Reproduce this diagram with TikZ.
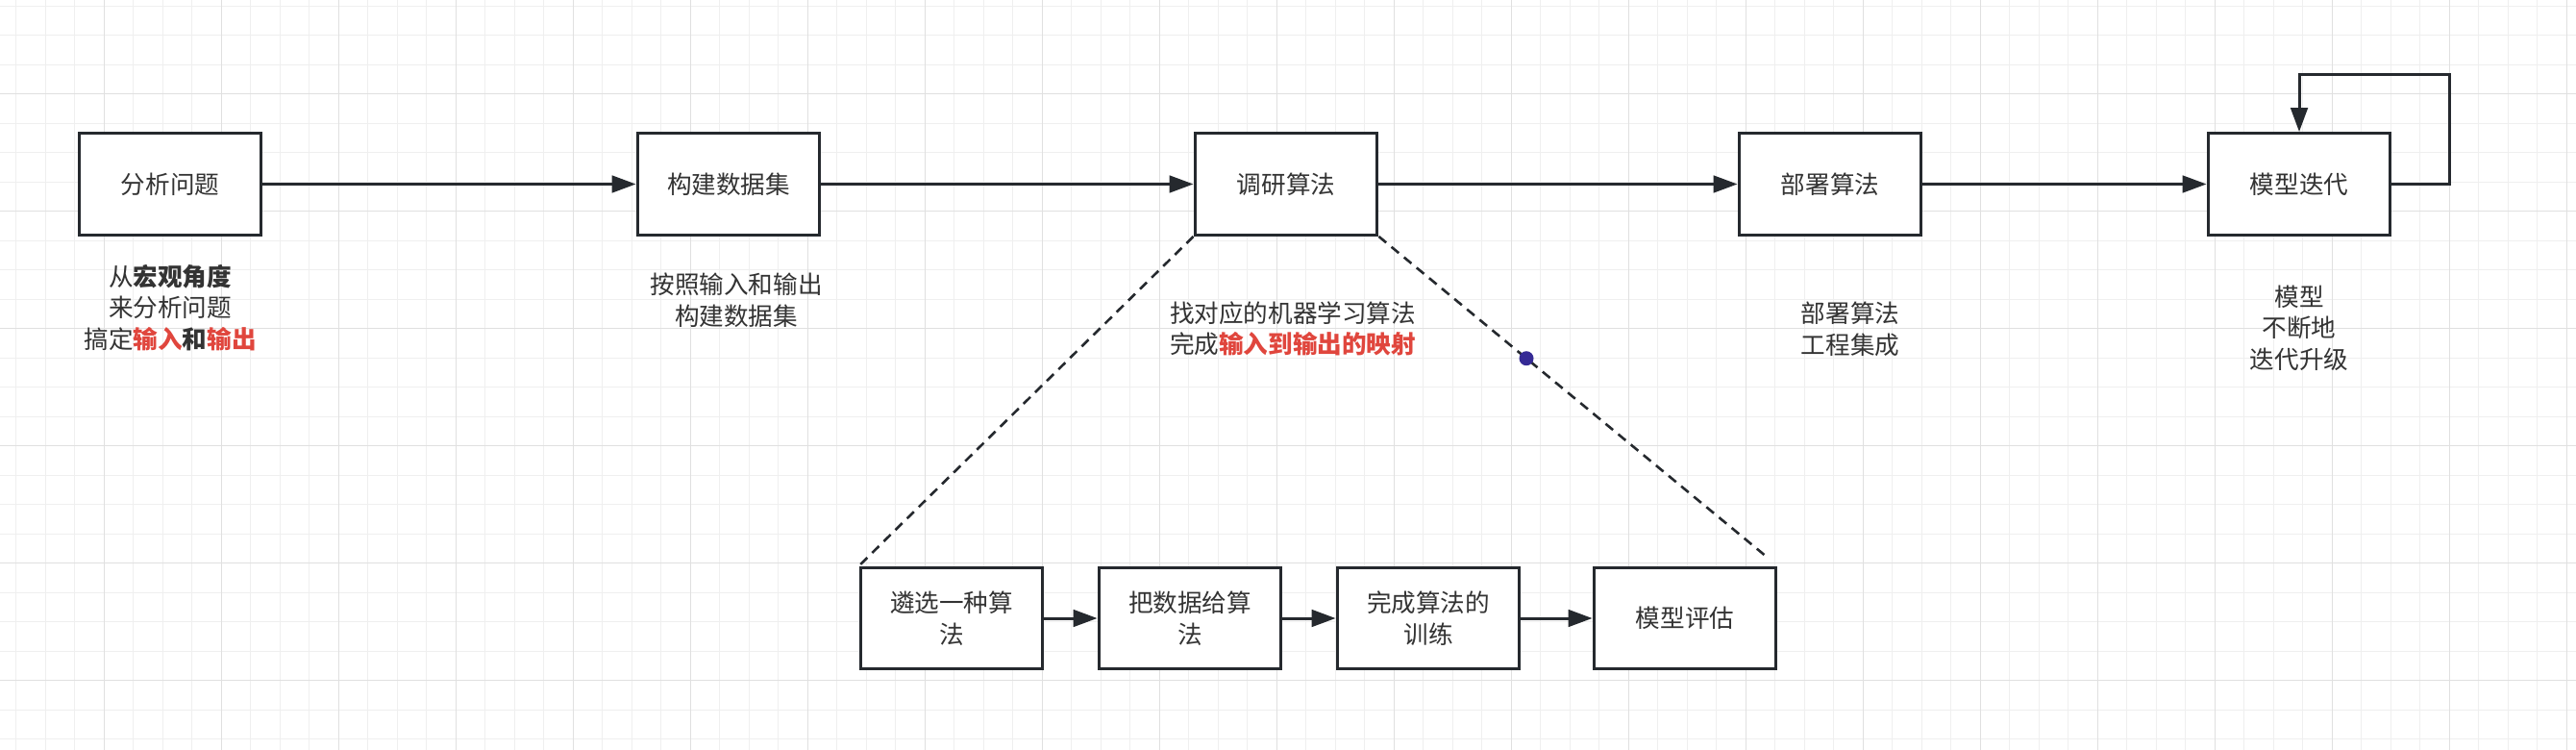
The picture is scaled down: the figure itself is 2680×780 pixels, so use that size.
\documentclass[tikz,border=0pt]{standalone}
\usepackage{fontspec}
\setmainfont{Noto Sans CJK SC}
\usetikzlibrary{arrows.meta}
\definecolor{flowInk}{HTML}{333333}
\definecolor{flowLine}{HTML}{25292E}
\definecolor{flowRed}{HTML}{E0463D}
\definecolor{flowDot}{HTML}{352A95}
\definecolor{flowGridMinor}{HTML}{EFEFEF}
\definecolor{flowGridMajor}{HTML}{E0E0E0}
\newcommand{\flowFont}{\fontsize{12.8pt}{16.3pt}\selectfont}
\newcommand{\flowHi}[1]{\textcolor{flowRed}{\textbf{#1}}}
\tikzset{
  flowBox/.style={
    draw=flowLine,
    line width=1.65pt,
    fill=white,
    minimum width=94.8pt,
    minimum height=52.8pt,
    inner sep=2pt,
    align=center,
    text=flowInk,
    font=\flowFont
  },
  flowArrow/.style={
    -{Triangle[length=12.5pt,width=8.8pt]},
    line width=1.5pt,
    draw=flowLine
  },
  flowDash/.style={
    line width=1.3pt,
    draw=flowLine,
    dash pattern=on 5pt off 3.5pt
  },
  flowNote/.style={
    align=center,
    text=flowInk,
    font=\flowFont
  }
}

\begin{document}
\begin{tikzpicture}[x=0.5pt,y=-0.5pt]

\useasboundingbox (0,0) rectangle (2680,780);
\fill[white] (0,0) rectangle (2680,780);

% Background grid.
\foreach \i in {0,...,87}
  \draw[flowGridMinor, line width=0.5pt] ({16.8+30.5*\i},0) -- ({16.8+30.5*\i},780);
\foreach \j in {0,...,25}
  \draw[flowGridMinor, line width=0.5pt] (0,{6.2+30.5*\j}) -- (2680,{6.2+30.5*\j});
\foreach \i in {0,...,21}
  \draw[flowGridMajor, line width=0.7pt] ({108.3+122*\i},0) -- ({108.3+122*\i},780);
\foreach \j in {0,...,5}
  \draw[flowGridMajor, line width=0.7pt] (0,{97.7+122*\j}) -- (2680,{97.7+122*\j});

% Main pipeline.
\node[flowBox] (analyze) at (177,191.5) {分析问题};
\node[flowBox] (dataset) at (758,191.5) {构建数据集};
\node[flowBox] (research) at (1338,191.5) {调研算法};
\node[flowBox] (deploy) at (1904,191.5) {部署算法};
\node[flowBox] (iterate) at (2392,191.5) {模型迭代};

\draw[flowArrow] (analyze.east) -- (dataset.west);
\draw[flowArrow] (dataset.east) -- (research.west);
\draw[flowArrow] (research.east) -- (deploy.west);
\draw[flowArrow] (deploy.east) -- (iterate.west);

\coordinate (loopTop) at (2392,77.7);
\draw[flowArrow] (iterate.east) -- ++(60,0) |- (loopTop) -- (iterate.north);

% Notes under the steps.
\node[flowNote] (noteAnalyze) at (177,320)
  {从\textbf{宏观角度}\\来分析问题\\搞定\flowHi{输入}\textbf{和}\flowHi{输出}};
\node[flowNote] (noteDataset) at (766,312)
  {按照输入和输出\\构建数据集};
\node[flowNote] (noteResearch) at (1345,342)
  {找对应的机器学习算法\\完成\flowHi{输入到输出的映射}};
\node[flowNote] (noteDeploy) at (1925,342)
  {部署算法\\工程集成};
\node[flowNote] (noteIterate) at (2392,341)
  {模型\\不断地\\迭代升级};

% Algorithm research detail.
\node[flowBox] (pick) at (990,643) {遴选一种算\\法};
\node[flowBox] (feed) at (1238,643) {把数据给算\\法};
\node[flowBox] (train) at (1486,643) {完成算法的\\训练};
\node[flowBox] (evaluate) at (1753,643) {模型评估};

\draw[flowArrow] (pick.east) -- (feed.west);
\draw[flowArrow] (feed.east) -- (train.west);
\draw[flowArrow] (train.east) -- (evaluate.west);

\draw[flowDash] (research.south west) -- (pick.north west);
\draw[flowDash, shorten >=6pt] (research.south east) -- (evaluate.north east)
  node[pos=0.37, circle, fill=flowDot, inner sep=0pt, minimum size=7.5pt] (dot) {};

\end{tikzpicture}
\end{document}
